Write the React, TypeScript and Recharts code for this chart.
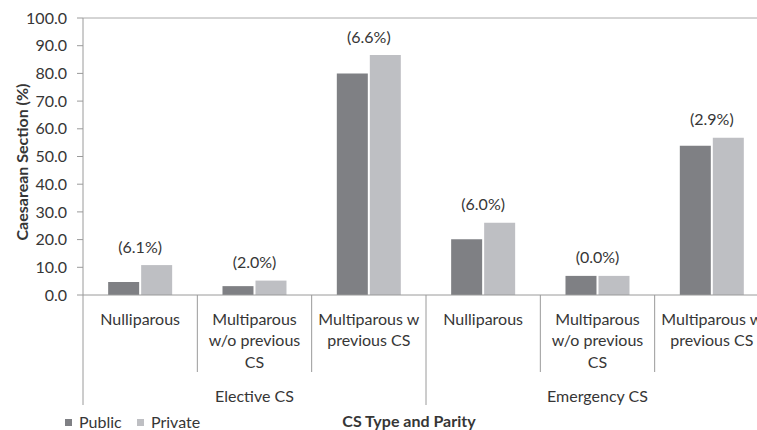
import { BarChart, Bar, XAxis, YAxis, Legend, LabelList, ReferenceLine } from 'recharts';

const categories = [
  'Nulliparous',
  'Multiparous\nw/o previous\nCS',
  'Multiparous w\nprevious CS',
  'Nulliparous',
  'Multiparous\nw/o previous\nCS',
  'Multiparous w\nprevious CS',
];
const groups = ['Elective CS', 'Elective CS', 'Elective CS', 'Emergency CS', 'Emergency CS', 'Emergency CS'];
const publicValues = [4.7, 3.2, 80.0, 20.1, 6.9, 53.9];
const privateValues = [10.8, 5.2, 86.6, 26.1, 6.9, 56.8];
const diffLabels = ['(6.1%)', '(2.0%)', '(6.6%)', '(6.0%)', '(0.0%)', '(2.9%)'];
const yTicks = [0, 10, 20, 30, 40, 50, 60, 70, 80, 90, 100];

const data = categories.map((c, i) => ({
  name: c,
  group: groups[i],
  Public: publicValues[i],
  Private: privateValues[i],
  diff: diffLabels[i],
}));

const FONT = 'Lato, "Open Sans", sans-serif';
const TEXT = '#363636';
const AXIS = '#9a9a9a';
const PUBLIC_COLOR = '#7f8084';
const PRIVATE_COLOR = '#bebfc3';
const FS = 16;

const CHART_W = 790;
const CHART_H = 430;
const Y_AXIS_W = 83;
const RIGHT = 21;
const BAND = (CHART_W - Y_AXIS_W - RIGHT) / categories.length;

function CategoryTick(props: any) {
  const { x, y, payload, index } = props;
  const lines = String(payload.value).split('\n');
  const left = x - BAND / 2;
  const groupStart = index === 0 || groups[index] !== groups[index - 1];
  const isLast = index === categories.length - 1;
  // middle category of its group gets the group label
  const members = groups.map((g, i) => (g === groups[index] ? i : -1)).filter((i) => i >= 0);
  const mid = members[Math.floor(members.length / 2)];
  return (
    <g>
      <line x1={left} x2={left} y1={y} y2={y + (groupStart ? 110 : 77)} stroke={AXIS} />
      {isLast && <line x1={x + BAND / 2} x2={x + BAND / 2} y1={y} y2={y + 110} stroke={AXIS} />}
      {lines.map((l, i) => (
        <text key={i} x={x} y={y + 23 + i * 21.5} textAnchor="middle" dominantBaseline="central"
          fontFamily={FONT} fontSize={FS} fill={TEXT}>
          {l}
        </text>
      ))}
      {index === mid && (
        <text x={x} y={y + 100} textAnchor="middle" dominantBaseline="central"
          fontFamily={FONT} fontSize={FS} fill={TEXT}>
          {groups[index]}
        </text>
      )}
    </g>
  );
}

function DiffLabel(props: any) {
  const { x, y, index } = props;
  return (
    <text x={x - 1} y={y - 19} textAnchor="middle" dominantBaseline="central"
      fontFamily={FONT} fontSize={FS} fill={TEXT}>
      {diffLabels[index]}
    </text>
  );
}

function LegendContent() {
  const items = [
    { name: 'Public', color: PUBLIC_COLOR, x: 65 },
    { name: 'Private', color: PRIVATE_COLOR, x: 137 },
  ];
  return (
    <div style={{ position: 'absolute', left: 0, top: 0, width: 0, height: 0 }}>
      {items.map((it) => (
        <div key={it.name} style={{ position: 'absolute', left: it.x, top: 411, display: 'flex', alignItems: 'center', whiteSpace: 'nowrap' }}>
          <span style={{ display: 'inline-block', width: 7, height: 7, background: it.color, marginRight: 7 }} />
          <span style={{ fontFamily: FONT, fontSize: FS, color: TEXT, lineHeight: '22px' }}>{it.name}</span>
        </div>
      ))}
    </div>
  );
}

export default function App() {
  return (
    <div style={{ position: 'absolute', left: 0, top: 0, width: 757, height: 430, overflow: 'hidden', background: '#fff' }}>
      <BarChart width={CHART_W} height={CHART_H} data={data}
        margin={{ top: 18, right: RIGHT, left: 0, bottom: 0 }}
        barCategoryGap="22%" barGap={2}>
        <ReferenceLine y={100} stroke="#aaaaaa" />
        <XAxis dataKey="name" height={135} tickSize={0} tickMargin={0} stroke={AXIS}
          interval={0} tick={<CategoryTick />}
          label={{
            content: () => (
              <text x={409} y={420} textAnchor="middle" dominantBaseline="central"
                fontFamily={FONT} fontSize={FS} fontWeight="bold" fill={TEXT}>
                CS Type and Parity
              </text>
            ),
          }} />
        <YAxis width={Y_AXIS_W} domain={[0, 100]} ticks={yTicks} interval={0} stroke={AXIS}
          tickSize={6} tickMargin={10}
          tick={{ fontFamily: FONT, fontSize: FS, fill: TEXT }}
          tickFormatter={(v: number) => v.toFixed(1)}
          label={{
            content: () => (
              <text x={21} y={162} textAnchor="middle" dominantBaseline="central" transform="rotate(-90 21 162)"
                fontFamily={FONT} fontSize={FS} fontWeight="bold" fill={TEXT}>
                Caesarean Section (%)
              </text>
            ),
          }} />
        <Legend content={<LegendContent />} wrapperStyle={{ left: 0, top: 0, width: 0, height: 0 }} />
        <Bar dataKey="Public" fill={PUBLIC_COLOR} isAnimationActive={false} />
        <Bar dataKey="Private" fill={PRIVATE_COLOR} isAnimationActive={false}>
          <LabelList dataKey="diff" content={<DiffLabel />} />
        </Bar>
      </BarChart>
    </div>
  );
}
